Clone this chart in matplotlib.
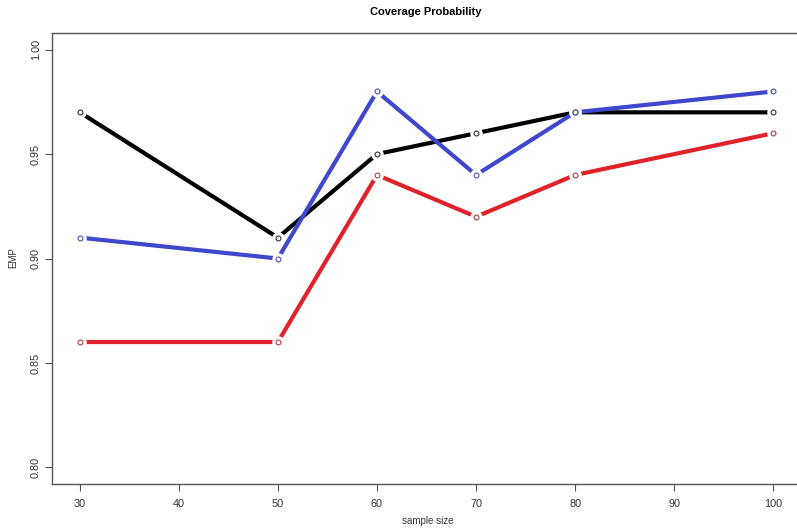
import matplotlib.pyplot as plt

plt.rcParams['font.family'] = ['Liberation Sans Narrow', 'Liberation Sans', 'DejaVu Sans']

sample_size = [30, 50, 60, 70, 80, 100]
emp_black = [0.97, 0.91, 0.95, 0.96, 0.97, 0.97]
emp_blue = [0.91, 0.90, 0.98, 0.94, 0.97, 0.98]
emp_red = [0.86, 0.86, 0.94, 0.92, 0.94, 0.96]

x_ticks = [30, 40, 50, 60, 70, 80, 90, 100]
y_ticks = [0.80, 0.85, 0.90, 0.95, 1.00]

W, H = 797, 529
fig = plt.figure(figsize=(W / 100, H / 100), dpi=100)
ax = fig.add_axes([52 / W, 1 - 484 / H, (801 - 52) / W, (484 - 33) / H])

series = [
    (emp_black, '#000000', '#333333'),
    (emp_blue, '#3f48cc', '#4a52b0'),
    (emp_red, '#e0222a', '#b04040'),
]

# R type="b": line with gaps around the points
for vals, lc, mc in series:
    ax.plot(sample_size, vals, color=lc, lw=3.0, solid_capstyle='butt', zorder=2)
for vals, lc, mc in series:
    ax.plot(sample_size, vals, 'o', ms=9, mfc='white', mec='none', zorder=3)
for vals, lc, mc in series:
    ax.plot(sample_size, vals, 'o', ms=3.5, mfc='white', mec=mc, mew=0.8, zorder=4)

ax.set_xlim(27.2, 102.8)
ax.set_ylim(0.792, 1.008)
ax.set_xticks(x_ticks)
ax.set_xticklabels([str(t) for t in x_ticks])
ax.set_yticks(y_ticks)
ax.set_yticklabels([f'{t:.2f}' for t in y_ticks], rotation=90, va='center')

for s in ax.spines.values():
    s.set_color('#555555')
    s.set_linewidth(1.0)
ax.tick_params(labelsize=7.8, length=5, width=0.8, pad=5.5,
               colors='#555555', labelcolor='#333333')
ax.tick_params(axis='y', pad=3)

fig.text(426 / W, 1 - 12 / H, 'Coverage Probability', fontsize=8,
         fontweight='bold', ha='center', va='center')
fig.text(428 / W, 1 - 521 / H, 'sample size', fontsize=7,
         color='#333333', ha='center', va='center')
fig.text(13 / W, 1 - 258 / H, 'EMP', fontsize=7, color='#333333',
         rotation=90, ha='center', va='center')

fig.savefig('out.png', dpi=100)
